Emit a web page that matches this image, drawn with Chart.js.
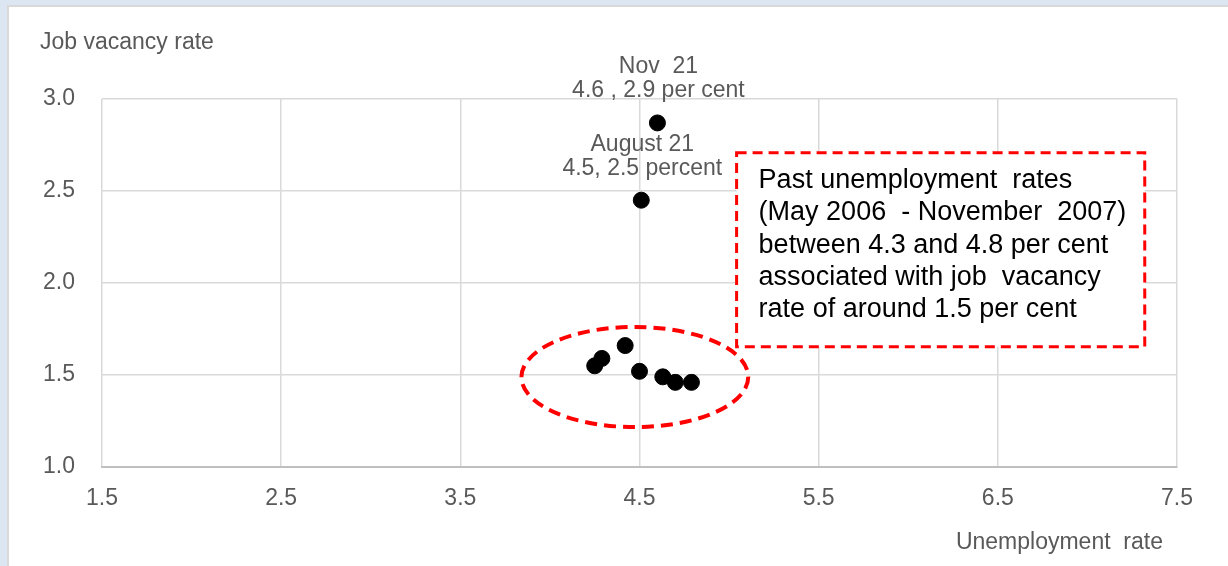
<!DOCTYPE html>
<html>
<head>
<meta charset="utf-8">
<title>Job vacancy rate vs unemployment rate</title>
<script src="https://cdn.jsdelivr.net/npm/chart.js@4/dist/chart.umd.min.js"></script>
<style>
  html, body { margin: 0; padding: 0; background: #ffffff; }
  #wrap { width: 1228px; height: 566px; position: relative; }
</style>
</head>
<body>
<div id="wrap"><canvas id="beveridge" width="1228" height="566"></canvas></div>
<script>
// --- Data ---
const unemploymentPast = [4.25, 4.29, 4.42, 4.50, 4.63, 4.70, 4.79];
const vacancyPast      = [1.55, 1.59, 1.66, 1.52, 1.49, 1.46, 1.46];
const unemploymentRecent = [4.51, 4.60];
const vacancyRecent      = [2.45, 2.87];
const recentLabels = [['August 21', '4.5, 2.5 percent'], ['Nov  21', '4.6 , 2.9 per cent']];
const xTicks = [1.5, 2.5, 3.5, 4.5, 5.5, 6.5, 7.5];
const yTicks = [1.0, 1.5, 2.0, 2.5, 3.0];
const noteLines = [
    'Past unemployment  rates',
    '(May 2006  - November  2007)',
    'between 4.3 and 4.8 per cent',
    'associated with job  vacancy',
    'rate of around 1.5 per cent'
];

// --- Styles ---
const FONT = '"Liberation Sans", Arial, sans-serif';
const GREY_TEXT = '#595959';
const RED = '#ff0000';

// annotation shapes, in data units
const clusterRing = { cx: 4.474, cy: 1.489, rx: 0.633, ry: 0.272 };
const noteBox = { x0: 5.042, x1: 7.32, y0: 2.708, y1: 1.654 };

const toPoints = (xs, ys) => xs.map((x, i) => ({ x: x, y: ys[i] }));

// background frame + annotations drawn on top of the scales
const decorations = {
    id: 'decorations',
    beforeDraw(chart) {
        const c = chart.ctx;
        c.save();
        c.fillStyle = '#dce6f2';
        c.fillRect(0, 0, chart.width, chart.height);
        c.fillStyle = '#d9d9d9';
        c.fillRect(7, 5, chart.width - 7, chart.height);
        c.fillStyle = '#ffffff';
        c.fillRect(9, 7, chart.width - 9, chart.height);
        c.restore();
    },
    afterDatasetsDraw(chart) {
        const c = chart.ctx;
        const xs = chart.scales.x, ys = chart.scales.y;
        c.save();

        // axis titles
        c.fillStyle = GREY_TEXT;
        c.font = '23px ' + FONT;
        c.textBaseline = 'middle';
        c.textAlign = 'left';
        c.fillText('Job vacancy rate', 40, 43);
        c.textAlign = 'right';
        c.fillText('Unemployment  rate', 1163, 543);

        // point labels, two lines above each recent point
        c.textAlign = 'center';
        recentLabels.forEach((lines, i) => {
            const px = xs.getPixelForValue(unemploymentRecent[i]);
            const py = ys.getPixelForValue(vacancyRecent[i]);
            c.fillText(lines[0], px + 1, py - 56);
            c.fillText(lines[1], px + 1, py - 32);
        });

        // dashed ring around the 2006-07 points
        c.strokeStyle = RED;
        c.setLineDash([12, 7]);
        c.lineWidth = 4;
        c.beginPath();
        c.ellipse(
            xs.getPixelForValue(clusterRing.cx), ys.getPixelForValue(clusterRing.cy),
            xs.getPixelForValue(clusterRing.cx + clusterRing.rx) - xs.getPixelForValue(clusterRing.cx),
            ys.getPixelForValue(clusterRing.cy) - ys.getPixelForValue(clusterRing.cy + clusterRing.ry),
            0, 0, Math.PI * 2);
        c.stroke();

        // dashed note box
        const bx0 = xs.getPixelForValue(noteBox.x0), bx1 = xs.getPixelForValue(noteBox.x1);
        const by0 = ys.getPixelForValue(noteBox.y0), by1 = ys.getPixelForValue(noteBox.y1);
        c.fillStyle = '#ffffff';
        c.fillRect(bx0, by0, bx1 - bx0, by1 - by0);
        c.setLineDash([10, 6]);
        c.lineWidth = 3;
        c.strokeRect(bx0, by0, bx1 - bx0, by1 - by0);

        c.setLineDash([]);
        c.fillStyle = '#000000';
        c.font = '27px ' + FONT;
        c.textAlign = 'left';
        c.textBaseline = 'alphabetic';
        noteLines.forEach((t, i) => c.fillText(t, bx0 + 22, by0 + 35 + i * 32.4));
        c.restore();
    }
};

const ctx = document.getElementById('beveridge').getContext('2d');
new Chart(ctx, {
    type: 'scatter',
    data: {
        datasets: [
            {
                label: 'May 2006 - November 2007',
                data: toPoints(unemploymentPast, vacancyPast),
                backgroundColor: '#000000',
                borderColor: '#000000',
                pointRadius: 8,
                pointHoverRadius: 8
            },
            {
                label: '2021',
                data: toPoints(unemploymentRecent, vacancyRecent),
                backgroundColor: '#000000',
                borderColor: '#000000',
                pointRadius: 8,
                pointHoverRadius: 8
            }
        ]
    },
    options: {
        responsive: false,
        animation: false,
        layout: { padding: { left: 0, top: 99, right: 51, bottom: 0 } },
        plugins: {
            legend: { display: false },
            tooltip: { enabled: false }
        },
        scales: {
            x: {
                type: 'linear',
                min: xTicks[0],
                max: xTicks[xTicks.length - 1],
                afterFit(scale) { scale.height = 99; },
                afterBuildTicks(scale) { scale.ticks = xTicks.map(v => ({ value: v })); },
                ticks: {
                    color: GREY_TEXT,
                    font: { family: FONT, size: 23 },
                    padding: 18,
                    callback: v => v.toFixed(1)
                },
                grid: { color: '#d9d9d9', lineWidth: 1.5, drawTicks: false },
                border: { color: '#bfbfbf', width: 2 }
            },
            y: {
                type: 'linear',
                min: yTicks[0],
                max: yTicks[yTicks.length - 1],
                afterFit(scale) { scale.width = 102; },
                afterBuildTicks(scale) { scale.ticks = yTicks.map(v => ({ value: v })); },
                ticks: {
                    color: GREY_TEXT,
                    font: { family: FONT, size: 23 },
                    padding: 27,
                    callback: v => v.toFixed(1)
                },
                grid: { color: '#d9d9d9', lineWidth: 1.5, drawTicks: false },
                border: { display: false }
            }
        }
    },
    plugins: [decorations]
});
</script>
</body>
</html>
